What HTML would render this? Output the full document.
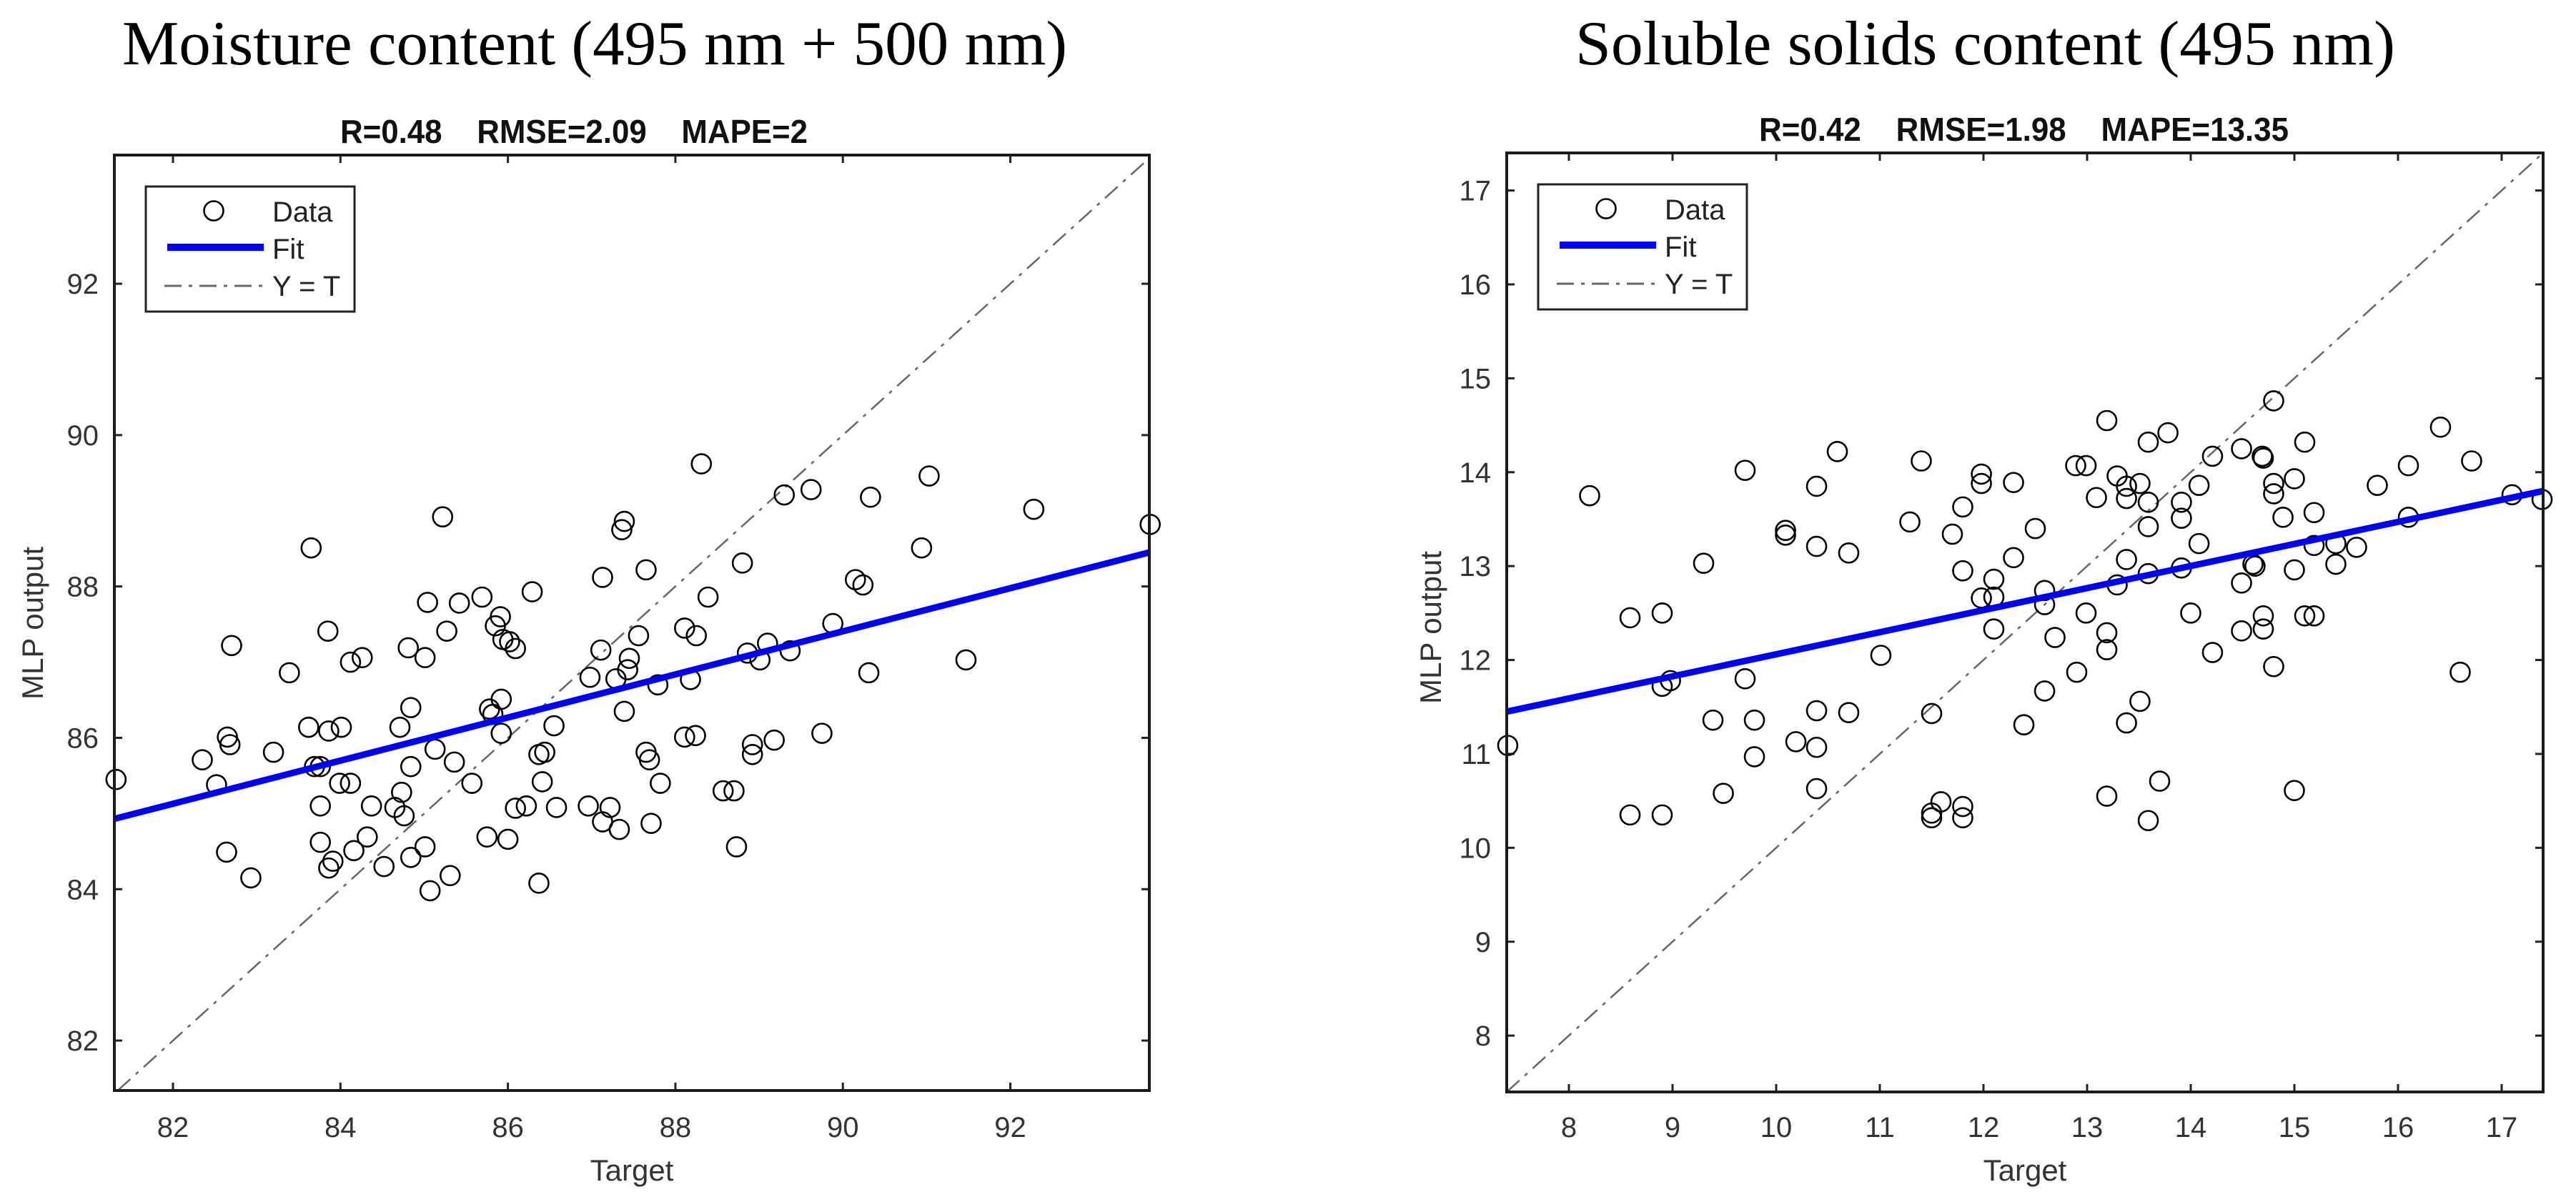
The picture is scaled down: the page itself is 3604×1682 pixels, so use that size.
<!DOCTYPE html>
<html><head><meta charset="utf-8"><style>
html,body{margin:0;padding:0;background:#fff;}
svg{display:block;}
text{white-space:pre;}
</style></head><body>
<svg id="fig" width="3604" height="1682" viewBox="0 0 3604 1682" xmlns="http://www.w3.org/2000/svg">
<rect x="0" y="0" width="3604" height="1682" fill="#fff"/>
<text x="171" y="90" font-family="Liberation Serif, serif" font-size="88" textLength="1322" lengthAdjust="spacingAndGlyphs">Moisture content (495 nm + 500 nm)</text>
<text x="2204" y="90" font-family="Liberation Serif, serif" font-size="88" textLength="1147" lengthAdjust="spacingAndGlyphs">Soluble solids content (495 nm)</text>
<g id="left"></g>
<g id="right"></g>
</svg>
<script>
var NS='http://www.w3.org/2000/svg';
// Left chart data
var leftX=[81.32,82.35,82.52,82.65,82.68,82.70,82.64,82.93,83.20,83.39,83.65,83.62,83.69,83.76,83.76,83.76,83.85,83.86,83.86,83.91,84.01,83.99,84.12,84.16,84.12,84.26,84.32,84.37,84.52,84.65,84.71,84.73,84.76,84.81,84.84,84.84,84.84,85.01,85.01,85.04,85.07,85.13,85.22,85.27,85.31,85.36,85.42,85.57,85.69,85.75,85.78,85.82,85.85,85.91,85.92,85.94,85.92,86.02,86.09,86.00,86.09,86.22,86.29,86.37,86.37,86.41,86.44,86.55,86.58,86.96,86.98,87.11,87.13,87.13,87.22,87.29,87.33,87.36,87.39,87.39,87.43,87.45,87.56,87.65,87.65,87.69,87.71,87.79,87.82,88.11,88.11,88.18,88.24,88.25,88.31,88.39,88.57,88.70,88.73,88.80,88.86,88.92,88.92,89.01,89.10,89.18,89.30,89.37,89.62,89.75,89.88,90.15,90.24,90.31,90.33,90.94,91.03,91.47,92.28,93.67];
var leftY=[85.45,85.71,85.38,86.01,85.91,87.22,84.49,84.15,85.81,86.86,88.51,86.14,85.62,85.62,85.10,84.62,87.41,86.09,84.28,84.37,86.14,85.40,85.40,84.51,87.00,87.06,84.69,85.10,84.30,85.08,86.14,85.28,84.97,87.19,86.40,85.62,84.42,87.06,84.56,87.79,83.98,85.85,88.92,87.41,84.18,85.68,87.78,85.40,87.86,84.69,86.38,86.31,87.48,87.60,86.51,87.30,86.06,87.27,87.18,84.66,85.07,85.10,87.93,84.08,85.78,85.42,85.81,86.16,85.08,85.10,86.80,87.16,88.12,84.89,85.08,86.78,84.79,88.75,88.86,86.35,86.90,87.05,87.35,88.22,85.81,85.71,84.87,86.70,85.40,87.45,86.01,86.77,86.03,87.35,89.62,87.86,85.30,85.30,84.56,88.31,87.12,85.91,85.78,87.03,87.25,85.97,89.21,87.15,89.28,86.06,87.51,88.09,88.02,86.86,89.18,88.51,89.46,87.03,89.02,88.82];
var leftXTicks=[82,84,86,88,90,92];
var leftYTicks=[82,84,86,88,90,92];
var leftFit=[84.93,88.45];
// Right chart data
var rightX=[7.41,8.20,8.59,8.59,8.90,8.90,8.98,8.90,9.30,9.39,9.49,9.70,9.70,9.79,9.79,10.09,10.09,10.19,10.39,10.39,10.39,10.39,10.39,10.59,10.70,10.70,11.01,11.29,11.40,11.50,11.50,11.50,11.59,11.70,11.80,11.80,11.80,11.80,11.98,11.98,11.98,12.10,12.10,12.10,12.29,12.29,12.39,12.50,12.59,12.59,12.59,12.69,12.89,12.90,12.99,12.99,13.09,13.19,13.19,13.19,13.19,13.29,13.29,13.38,13.38,13.38,13.38,13.51,13.51,13.59,13.59,13.59,13.59,13.59,13.70,13.78,13.91,13.91,13.91,14.00,14.08,14.08,14.21,14.21,14.49,14.49,14.49,14.60,14.62,14.69,14.70,14.70,14.70,14.80,14.80,14.80,14.80,14.89,15.00,15.00,15.00,15.10,15.10,15.19,15.19,15.19,15.40,15.40,15.60,15.80,16.10,16.10,16.41,16.60,16.71,17.10,17.39];
var rightY=[11.09,13.75,12.45,10.35,12.50,11.72,11.78,10.35,13.03,11.36,10.58,14.02,11.80,11.36,10.97,13.38,13.33,11.13,13.85,13.21,11.46,11.07,10.63,14.22,13.14,11.44,12.05,13.47,14.12,11.43,10.37,10.32,10.49,13.34,13.63,12.95,10.44,10.32,13.98,13.88,12.66,12.86,12.67,12.33,13.89,13.09,11.31,13.40,12.74,12.59,11.67,12.24,14.07,11.87,14.07,12.50,13.73,14.55,12.29,12.11,10.55,13.96,12.80,13.85,13.72,13.07,11.33,13.88,11.56,14.32,13.68,13.42,12.92,10.29,10.71,14.42,13.68,13.51,12.98,12.50,13.24,13.86,14.17,12.08,14.25,12.82,12.31,13.02,13.00,14.17,14.15,12.47,12.33,14.76,13.88,13.77,11.93,13.52,13.93,12.96,10.61,14.32,12.47,12.47,13.57,13.22,13.24,13.02,13.20,13.86,14.07,13.52,14.48,11.87,14.12,13.76,13.71];
var rightXTicks=[8,9,10,11,12,13,14,15,16,17];
var rightYTicks=[8,9,10,11,12,13,14,15,16,17];
var rightFit=[11.45,13.8];

function mk(tag,attrs,parent){var e=document.createElementNS(NS,tag);for(var k in attrs)e.setAttribute(k,attrs[k]);parent.appendChild(e);return e;}

function panel(g,cfg){
  var L=cfg.L,R=cfg.R,T=cfg.T,B=cfg.B;
  function sx(v){return L+(v-cfg.x0)/(cfg.x1-cfg.x0)*(R-L);}
  function sy(v){return B-(v-cfg.y0)/(cfg.y1-cfg.y0)*(B-T);}
  var st=mk('text',{x:cfg.stx,y:cfg.sty,'font-family':'Liberation Sans, sans-serif','font-size':'46','font-weight':'bold',fill:'#111',textLength:cfg.stw,lengthAdjust:'spacingAndGlyphs'},g);
  st.textContent=cfg.sub.replace(/ /g,'\u00a0');
  
  
  cfg.xt.forEach(function(t){
    var x=sx(t);
    var l1=mk('line',{x1:x,y1:B,x2:x,y2:B-11,stroke:'#222','stroke-width':3},g);
    
    
    var l2=mk('line',{x1:x,y1:T,x2:x,y2:T+11,stroke:'#222','stroke-width':3},g);
    
    
    var tx=mk('text',{x:x,y:1591,'text-anchor':'middle','font-family':'Liberation Sans, sans-serif','font-size':'40',fill:'#333'},g);
    tx.textContent=t;
    
    
  });
  cfg.yt.forEach(function(t){
    var y=sy(t);
    var l1=mk('line',{x1:L,y1:y,x2:L+11,y2:y,stroke:'#222','stroke-width':3},g);
    
    
    var l2=mk('line',{x1:R,y1:y,x2:R-11,y2:y,stroke:'#222','stroke-width':3},g);
    
    
    var tx=mk('text',{x:L-22,y:y+14,'text-anchor':'end','font-family':'Liberation Sans, sans-serif','font-size':'40',fill:'#333'},g);
    tx.textContent=t;
    
    
  });
  var lo=Math.max(cfg.x0,cfg.y0),hi=Math.min(cfg.x1,cfg.y1);
  var d=mk('line',{x1:sx(lo),y1:sy(lo),x2:sx(hi),y2:sy(hi),stroke:'#666','stroke-width':2.5,'stroke-dasharray':'24 10 5 10'},g);
  
  
  for(var i=0;i<cfg.xs.length;i++){
    var c=mk('circle',{cx:sx(cfg.xs[i]),cy:sy(cfg.ys[i]),r:13.5,fill:'none',stroke:'#000','stroke-width':2.6},g);
    
    
  }
  var f=mk('line',{x1:L,y1:sy(cfg.fit[0]),x2:R,y2:sy(cfg.fit[1]),stroke:'#0000ff','stroke-width':9},g);
  
  
  var fr=mk('rect',{x:L,y:T,width:R-L,height:B-T,fill:'none',stroke:'#1a1a1a','stroke-width':4},g);
  
  
  var xl=mk('text',{x:(L+R)/2,y:1652,'text-anchor':'middle','font-family':'Liberation Sans, sans-serif','font-size':'42',fill:'#333'},g);
  xl.textContent='Target';
  
  
  var yl=mk('text',{x:0,y:0,'text-anchor':'middle','font-family':'Liberation Sans, sans-serif','font-size':'42',fill:'#333',transform:'translate('+(cfg.ylx)+','+cfg.yly+') rotate(-90)'},g);
  yl.textContent='MLP output';
  
  
  var lx=cfg.lgx,ly=cfg.lgy;
  var lg=mk('g',{},g);
  
  
  mk('rect',{x:lx,y:ly,width:292,height:175,fill:'#fff',stroke:'#222','stroke-width':3},lg);
  var lc=mk('circle',{cx:lx+95,cy:ly+34,r:13.5,fill:'none',stroke:'#000','stroke-width':2.6},lg);
  
  
  var lb=mk('line',{x1:lx+30,y1:ly+85,x2:lx+165,y2:ly+85,stroke:'#0000ff','stroke-width':10},lg);
  
  
  var ld=mk('line',{x1:lx+26,y1:ly+139,x2:lx+165,y2:ly+139,stroke:'#666','stroke-width':3,'stroke-dasharray':'24 10 5 10'},lg);
  
  
  var names=['Data','Fit','Y = T'];
  for(var j=0;j<3;j++){
    var t=mk('text',{x:lx+177,y:ly+49+j*52,'font-family':'Liberation Sans, sans-serif','font-size':'40',fill:'#222'},lg);
    t.textContent=names[j];
    
    
  }
}
panel(document.getElementById('left'),{L:160,R:1608,T:217,B:1526,x0:81.3,x1:93.66,y0:81.34,y1:93.70,
  xs:leftX,ys:leftY,xt:leftXTicks,yt:leftYTicks,fit:leftFit,
  sub:'R=0.48    RMSE=2.09    MAPE=2',stx:476,sty:200,stw:654,ylx:60,yly:872,lgx:204,lgy:261});
panel(document.getElementById('right'),{L:2108,R:3558,T:214,B:1528,x0:7.4,x1:17.4,y0:7.4,y1:17.4,
  xs:rightX,ys:rightY,xt:rightXTicks,yt:rightYTicks,fit:rightFit,
  sub:'R=0.42    RMSE=1.98    MAPE=13.35',stx:2461,sty:197,stw:741,ylx:2016,yly:878,lgx:2152,lgy:258});
</script>
</body></html>
